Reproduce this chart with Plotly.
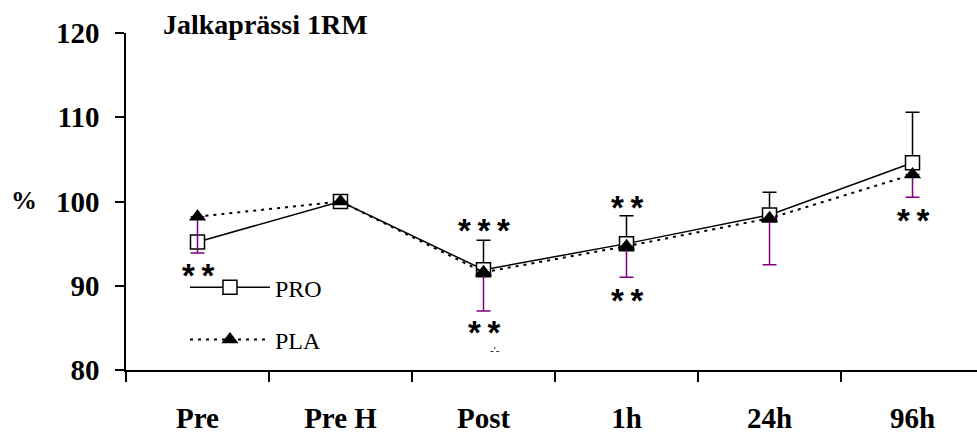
import plotly.graph_objects as go

categories = ["Pre", "Pre H", "Post", "1h", "24h", "96h"]
pro_values = [95.2, 100.0, 91.9, 95.0, 98.4, 104.6]
pro_err_up = [0.0, 0.0, 3.5, 3.3, 2.7, 6.0]
pla_values = [98.2, 100.0, 91.6, 94.7, 98.0, 103.2]
pla_err_down = [4.3, 0.0, 4.6, 3.7, 5.5, 2.7]

# significance marks: (category index, y value, text)
sig_x = [0, 2, 2, 3, 3, 5]
sig_y = [92.1, 97.4, 85.3, 100.1, 89.1, 98.6]
sig_text = ["*\u2009*", "*\u2009*\u2009*", "*\u2009*", "*\u2009*", "*\u2009*", "*\u2009*"]

y_ticks = [80, 90, 100, 110, 120]

SERIF = "Liberation Serif, Times New Roman, serif"

fig = go.Figure()

fig.add_trace(go.Scatter(
    x=categories, y=pro_values, name="PRO", mode="lines+markers",
    line=dict(color="black", width=1.5),
    marker=dict(symbol="square", size=14, color="white",
                line=dict(color="black", width=1.5)),
    error_y=dict(type="data", symmetric=False, array=pro_err_up,
                 arrayminus=[0] * len(pro_err_up), color="black",
                 thickness=1.5, width=7),
    legendgroup="a",
))
fig.add_trace(go.Scatter(
    x=categories, y=pla_values, name="PLA", mode="lines+markers",
    line=dict(color="black", width=2, dash="3px,5px"),
    marker=dict(symbol="triangle-up", size=15, color="black",
                line=dict(color="black", width=0)),
    error_y=dict(type="data", symmetric=False, array=[0] * len(pla_err_down),
                 arrayminus=pla_err_down, color="#800080",
                 thickness=1.5, width=7),
    legendgroup="b",
))

annotations = []
for xi, yv, t in zip(sig_x, sig_y, sig_text):
    annotations.append(dict(
        x=categories[xi], y=yv, xref="x", yref="y", text=f"<b>{t}</b>",
        showarrow=False,
        font=dict(family="Liberation Sans, Arial, sans-serif", size=33,
                  color="black"),
        xanchor="center", yanchor="middle", yshift=-7,
    ))
annotations.append(dict(
    x=categories[2], y=82.4, xref="x", yref="y", text="-'-", showarrow=False,
    font=dict(family=SERIF, size=11, color="black"), xshift=11,
))
annotations.append(dict(
    x=0.0408, y=1.025, xref="paper", yref="paper",
    text="<b>Jalkaprässi 1RM</b>", showarrow=False,
    xanchor="left", yanchor="middle",
    font=dict(family=SERIF, size=28, color="black"),
))
annotations.append(dict(
    x=-0.12, y=0.503, xref="paper", yref="paper", text="<b>%</b>",
    showarrow=False, xanchor="center", yanchor="middle",
    font=dict(family=SERIF, size=26, color="black"),
))

fig.update_layout(
    width=977, height=434,
    margin=dict(l=126, r=0, t=33, b=61),
    paper_bgcolor="white", plot_bgcolor="white",
    showlegend=True,
    legend=dict(
        x=0.0693, y=0.311, xanchor="left", yanchor="top",
        bgcolor="rgba(0,0,0,0)", borderwidth=0,
        itemwidth=80, tracegroupgap=18,
        font=dict(family=SERIF, size=24, color="black"),
    ),
    annotations=annotations,
    xaxis=dict(
        type="category", categoryorder="array", categoryarray=categories,
        range=[-0.5, 5.451], tickson="boundaries",
        showline=True, linecolor="black", linewidth=2,
        ticks="outside", ticklen=10, tickwidth=1.5, tickcolor="black",
        showgrid=False, zeroline=False,
        tickfont=dict(family=SERIF, size=29, color="black"),
        ticklabelstandoff=21,
    ),
    yaxis=dict(
        range=[80, 120], tickvals=y_ticks,
        ticktext=[f"<b>{v}</b>" for v in y_ticks],
        showline=True, linecolor="black", linewidth=1.5,
        ticks="outside", ticklen=9, tickwidth=1.5, tickcolor="black",
        showgrid=False, zeroline=False,
        tickfont=dict(family=SERIF, size=29, color="black"),
        ticklabelstandoff=10,
    ),
)
fig.update_xaxes(ticktext=[f"<b>{c}</b>" for c in categories], tickvals=categories)

fig.write_html("out.html")
